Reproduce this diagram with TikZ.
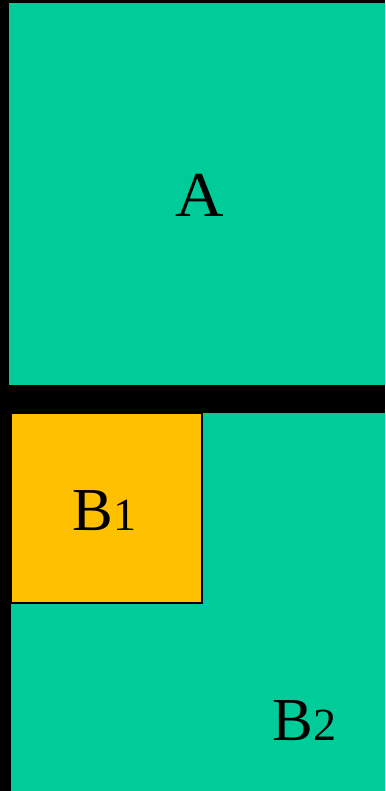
\documentclass[tikz,border=0pt]{standalone}
\usepackage{fontspec}
\setmainfont{Liberation Serif}
\definecolor{tealg}{HTML}{00CC99}
\definecolor{ambr}{HTML}{FFC000}
\begin{document}
\begin{tikzpicture}[x=1pt,y=-1pt,
  lbl/.style={inner sep=0pt, text=black}]
\fill[black] (0,0) rectangle (385,791);
\useasboundingbox (0,0) rectangle (385,791);
\fill[tealg] (9,3) rectangle (385,385);
\fill[tealg] (11,413) rectangle (385,791);
\filldraw[fill=ambr, draw=black, line width=2pt] (11,413) rectangle (202,603);
\node[lbl, anchor=base, xscale=1.05, font=\fontsize{64}{64}\selectfont] (a) at (199.5,217) {A};
\node[lbl, anchor=base west, font=\fontsize{61}{61}\selectfont] (b1) at (72,530) {B\kern1pt{\fontsize{46}{46}\selectfont 1}};
\node[lbl, anchor=base west, font=\fontsize{61}{61}\selectfont] (b2) at (272,740) {B\kern1pt{\fontsize{46}{46}\selectfont 2}};
\end{tikzpicture}
\end{document}
